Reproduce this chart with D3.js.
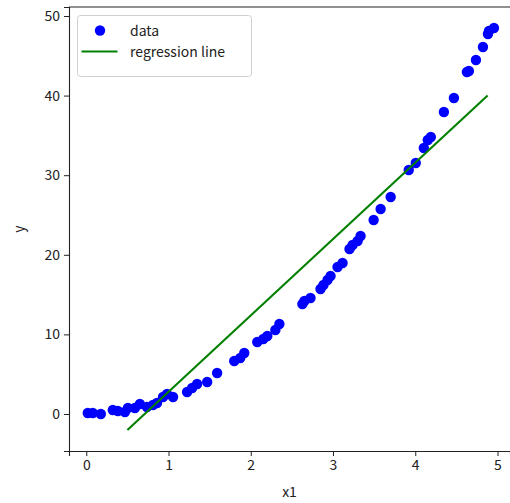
<!DOCTYPE html>
<html>
<head>
<meta charset="utf-8">
<script src="https://cdn.jsdelivr.net/npm/d3@7"></script>
<style>
  html, body { margin: 0; padding: 0; background: #fff; }
  svg { display: block; }
  text { font-family: "Noto Sans CJK JP", "DejaVu Sans", sans-serif; fill: #222; }
</style>
</head>
<body>
<svg id="chart" width="510" height="503"></svg>
<script>
// ---- data ----
const dataX = [0.018, 0.079, 0.177, 0.323, 0.384, 0.470, 0.506, 0.591, 0.652, 0.738,
  0.811, 0.860, 0.933, 0.982, 1.055, 1.226, 1.287, 1.348, 1.470, 1.591,
  1.799, 1.872, 1.921, 2.079, 2.152, 2.201, 2.299, 2.348, 2.628, 2.652,
  2.726, 2.848, 2.884, 2.933, 2.970, 3.055, 3.116, 3.201, 3.238, 3.299,
  3.335, 3.494, 3.579, 3.701, 3.921, 4.006, 4.104, 4.152, 4.189, 4.348,
  4.470, 4.628, 4.652, 4.738, 4.823, 4.884, 4.896, 4.957];
const dataY = [0.13, 0.13, 0.00, 0.50, 0.38, 0.25, 0.75, 0.75, 1.26, 0.88,
  1.13, 1.38, 2.14, 2.51, 2.14, 2.76, 3.27, 3.77, 4.02, 5.15,
  6.66, 7.04, 7.66, 9.05, 9.42, 9.80, 10.55, 11.31, 13.82, 14.20,
  14.57, 15.70, 16.21, 16.83, 17.34, 18.47, 18.97, 20.73, 21.23, 21.73,
  22.36, 24.37, 25.75, 27.26, 30.65, 31.53, 33.42, 34.42, 34.80, 37.94,
  39.70, 42.96, 43.09, 44.47, 46.11, 47.74, 48.12, 48.49];
const lineX = [0.5, 4.88];
const lineY = [-2.0, 40.0];
const xTicks = [0, 1, 2, 3, 4, 5];
const yTicks = [0, 10, 20, 30, 40, 50];
const legendLabels = ["data", "regression line"];
const xLabel = "x1";
const yLabel = "y";

// ---- layout ----
const svg = d3.select("#chart");
const L = 69, T = 7, R = 510, B = 451;
const x = d3.scaleLinear().domain([-0.21, 5.152]).range([L, R]);
const y = d3.scaleLinear().domain([-4.65, 51.13]).range([B, T]);

// points
svg.append("g").selectAll("circle")
  .data(dataX.map((d, i) => [d, dataY[i]]))
  .join("circle")
  .attr("cx", d => x(d[0])).attr("cy", d => y(d[1]))
  .attr("r", 5.2).attr("fill", "#0000ff");

// regression line
svg.append("path")
  .datum(lineX.map((d, i) => [d, lineY[i]]))
  .attr("d", d3.line().x(d => x(d[0])).y(d => y(d[1])))
  .attr("fill", "none").attr("stroke", "#008000").attr("stroke-width", 2.1);

// axes
const xAxis = svg.append("g").attr("transform", `translate(0,${B})`)
  .call(d3.axisBottom(x).tickValues(xTicks).tickFormat(d3.format("d")).tickSizeOuter(0).tickSize(5).tickPadding(4));
const yAxis = svg.append("g").attr("transform", `translate(${L},0)`)
  .call(d3.axisLeft(y).tickValues(yTicks).tickFormat(d3.format("d")).tickSizeOuter(0).tickSize(5).tickPadding(4));
[xAxis, yAxis].forEach(a => {
  a.selectAll("text").attr("font-size", 14).attr("fill", "#222")
    .style("font-family", '"Noto Sans CJK JP", "DejaVu Sans", sans-serif');
  a.selectAll("line").attr("stroke", "#222").attr("stroke-width", 1);
  a.select(".domain").attr("stroke", "#222").attr("stroke-width", 1.1);
});
// top spine
svg.append("line").attr("x1", L).attr("x2", R).attr("y1", T).attr("y2", T)
  .attr("stroke", "#222").attr("stroke-width", 1.1);

// axis labels
svg.append("text").attr("x", (L + R) / 2).attr("y", 497)
  .attr("text-anchor", "middle").attr("font-size", 14).text(xLabel);
svg.append("text").attr("transform", `translate(24,${(T + B) / 2}) rotate(-90)`)
  .attr("text-anchor", "middle").attr("font-size", 14).text(yLabel);

// legend
const lg = svg.append("g");
lg.append("rect").attr("x", 77.5).attr("y", 15.5).attr("width", 174).attr("height", 61)
  .attr("rx", 3).attr("fill", "#fff").attr("fill-opacity", 0.8)
  .attr("stroke", "#d0d0d0").attr("stroke-width", 1);
lg.append("circle").attr("cx", 100).attr("cy", 30.5).attr("r", 5.2).attr("fill", "#0000ff");
lg.append("line").attr("x1", 81.5).attr("x2", 117.5).attr("y1", 51.5).attr("y2", 51.5)
  .attr("stroke", "#008000").attr("stroke-width", 2.1);
lg.selectAll("text.lab").data(legendLabels).join("text")
  .attr("class", "lab")
  .attr("x", 130).attr("y", (d, i) => 35.5 + i * 21)
  .attr("font-size", 14).text(d => d);
</script>
</body>
</html>
